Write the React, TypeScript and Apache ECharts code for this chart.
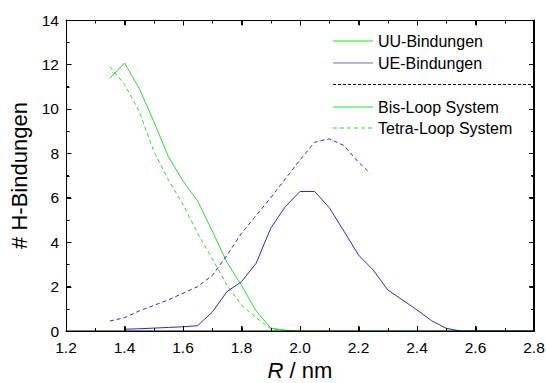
import React, { useEffect, useRef } from "react";
import * as echarts from "echarts";

// Data
const bisUU_x = [1.35, 1.4, 1.45, 1.5, 1.55, 1.6, 1.65, 1.7, 1.75, 1.8, 1.85, 1.9, 1.95, 2.0, 2.2, 2.4, 2.6, 2.8];
const bisUU_y = [11.38, 12.06, 10.93, 9.43, 7.85, 6.75, 5.85, 4.5, 3.1, 2.05, 0.9, 0.13, 0.03, 0, 0, 0, 0, 0];

const tetraUU_x = [1.35, 1.4, 1.45, 1.5, 1.55, 1.6, 1.65, 1.7, 1.75, 1.8, 1.85, 1.9, 1.95, 2.0];
const tetraUU_y = [11.9, 11.1, 9.9, 8.1, 6.8, 5.7, 4.4, 3.25, 2.07, 1.17, 0.6, 0.1, 0.02, 0];

const bisUE_x = [1.4, 1.45, 1.5, 1.55, 1.6, 1.65, 1.7, 1.75, 1.8, 1.85, 1.9, 1.95, 2.0, 2.05, 2.1, 2.15, 2.2, 2.25, 2.3, 2.35, 2.4, 2.45, 2.5, 2.55, 2.6, 2.7, 2.8];
const bisUE_y = [0.08, 0.1, 0.13, 0.16, 0.19, 0.24, 0.85, 1.77, 2.22, 3.05, 4.63, 5.6, 6.28, 6.28, 5.55, 4.5, 3.42, 2.75, 1.85, 1.4, 0.95, 0.46, 0.12, 0, 0, 0, 0];

const tetraUE_x = [1.35, 1.4, 1.45, 1.5, 1.55, 1.6, 1.65, 1.7, 1.75, 1.8, 1.85, 1.9, 1.95, 2.0, 2.05, 2.1, 2.15, 2.2, 2.24];
const tetraUE_y = [0.45, 0.6, 0.9, 1.15, 1.4, 1.7, 2.0, 2.5, 3.4, 4.4, 5.2, 6.0, 6.85, 7.7, 8.5, 8.65, 8.35, 7.6, 7.1];

// Tick positions
const xMajorTicks = [1.2, 1.4, 1.6, 1.8, 2.0, 2.2, 2.4, 2.6, 2.8];
const xMinorTicks = [1.3, 1.5, 1.7, 1.9, 2.1, 2.3, 2.5, 2.7];
const yMajorTicks = [0, 2, 4, 6, 8, 10, 12, 14];
const yMinorTicks = [1, 3, 5, 7, 9, 11, 13];

const legendTypeLabels = ["UU-Bindungen", "UE-Bindungen"];
const legendSystemLabels = ["Bis-Loop System", "Tetra-Loop System"];

const GREEN = "#22e022";
const BLUE = "#2a2acc";
const FONT = "Liberation Sans";
const X_MIN = 1.2, X_MAX = 2.8, Y_MIN = 0, Y_MAX = 14;

const zip = (xs: number[], ys: number[]) => xs.map((x, i) => [x, ys[i]]);

function makeAxis(position: string, min: number, max: number, interval: number, labels: any) {
  return {
    type: "value",
    position,
    min,
    max,
    interval,
    z: 10,
    axisLine: { show: true, onZero: false, lineStyle: { color: "#000000", width: 1, opacity: 1 } },
    axisTick: { show: true, inside: true, length: 5, lineStyle: { color: "#000000", width: 1, opacity: 1 } },
    minorTick: { show: true, splitNumber: 2, length: 3, lineStyle: { color: "#000000", width: 1, opacity: 1 } },
    splitLine: { show: false },
    minorSplitLine: { show: false },
    axisLabel: labels,
  };
}

export default function App() {
  const ref = useRef<HTMLDivElement>(null);
  useEffect(() => {
    if (!ref.current) return;
    const chart = echarts.init(ref.current, null, { renderer: "svg" });
    const lx1 = 333, lx2 = 373, tx = 378;
    const rows = [41, 63, 107, 128];
    const txt = (y: number, s: string) => ({
      type: "text",
      x: tx,
      y,
      style: { text: s, font: `16px ${FONT}`, fill: "#000", verticalAlign: "middle" },
    });
    const seg = (y: number, color: string, dash?: number[]) => ({
      type: "line",
      shape: { x1: lx1, y1: y, x2: lx2, y2: y },
      style: { stroke: color, lineWidth: 1, lineDash: dash },
    });
    const legendGraphic: any[] = [
      {
        type: "rect",
        z: 100,
        shape: { x: 66.5, y: 20.5, width: 467, height: 310.5 },
        style: { fill: "none", stroke: "#000", lineWidth: 1 },
        silent: true,
      },
      seg(rows[0], GREEN),
      txt(rows[0], legendTypeLabels[0]),
      seg(rows[1], "#6a6ad8"),
      txt(rows[1], legendTypeLabels[1]),
      { type: "line", shape: { x1: lx1, y1: 84.5, x2: 533, y2: 84.5 }, style: { stroke: "#000", lineWidth: 1, lineDash: [3, 2] } },
      seg(rows[2], GREEN),
      txt(rows[2], legendSystemLabels[0]),
      seg(rows[3], GREEN, [4, 3]),
      txt(rows[3], legendSystemLabels[1]),
    ];
    const tickLabel = { show: true, color: "#000000", fontFamily: FONT, fontSize: 15.5 };
    const xBottom: any = makeAxis("bottom", X_MIN, X_MAX, 0.2, { ...tickLabel, margin: 8, formatter: (v: number) => v.toFixed(1) });
    xBottom.name = "{i|R} / nm";
    xBottom.nameLocation = "middle";
    xBottom.nameGap = 28;
    xBottom.nameTextStyle = {
      color: "#000",
      fontFamily: FONT,
      fontSize: 22,
      rich: { i: { fontStyle: "italic", fontFamily: FONT, fontSize: 22, color: "#000" } },
    };
    const xTop: any = makeAxis("top", X_MIN, X_MAX, 0.2, { show: false });
    const yLeft: any = makeAxis("left", Y_MIN, Y_MAX, 2, { ...tickLabel, margin: 7 });
    yLeft.name = "# H-Bindungen";
    yLeft.nameLocation = "middle";
    yLeft.nameGap = 27;
    yLeft.nameTextStyle = { color: "#000", fontFamily: FONT, fontSize: 22 };
    const yRight: any = makeAxis("right", Y_MIN, Y_MAX, 2, { show: false });

    // tick marks drawn through the axes' scales: [x, y, length, orientation]
    const tickData: number[][] = [];
    xMajorTicks.forEach((v) => { tickData.push([v, Y_MIN, 5, 0]); tickData.push([v, Y_MAX, 5, 1]); });
    xMinorTicks.forEach((v) => { tickData.push([v, Y_MIN, 3, 0]); tickData.push([v, Y_MAX, 3, 1]); });
    yMajorTicks.forEach((v) => { tickData.push([X_MIN, v, 5, 2]); tickData.push([X_MAX, v, 5, 3]); });
    yMinorTicks.forEach((v) => { tickData.push([X_MIN, v, 3, 2]); tickData.push([X_MAX, v, 3, 3]); });

    const lineSeries = (name: string, data: number[][], color: string, dashed: boolean) => ({
      name,
      type: "line",
      data,
      symbol: "none",
      lineStyle: { color, width: 1, type: dashed ? [4, 3] : "solid" },
      itemStyle: { color },
      z: 3,
    });
    chart.setOption({
      animation: false,
      backgroundColor: "#fff",
      grid: { left: 66, top: 20, width: 468, height: 311, containLabel: false, outerBoundsMode: "none" },
      graphic: legendGraphic,
      xAxis: [xBottom, xTop],
      yAxis: [yLeft, yRight],
      series: [
        lineSeries("Tetra UU", zip(tetraUU_x, tetraUU_y), GREEN, true),
        lineSeries("Bis UU", zip(bisUU_x, bisUU_y), GREEN, false),
        lineSeries("Tetra UE", zip(tetraUE_x, tetraUE_y), BLUE, true),
        lineSeries("Bis UE", zip(bisUE_x, bisUE_y), BLUE, false),
        {
          name: "ticks",
          type: "custom",
          coordinateSystem: "cartesian2d",
          xAxisIndex: 0,
          yAxisIndex: 0,
          silent: true,
          clip: false,
          z: 20,
          encode: { x: 0, y: 1 },
          data: tickData,
          renderItem: (params: any, api: any) => {
            const x = api.value(0);
            const y = api.value(1);
            const len = api.value(2);
            const o = api.value(3);
            const p = api.coord([x, y]);
            let dx = 0, dy = 0;
            if (o === 0) dy = -len;
            else if (o === 1) dy = len;
            else if (o === 2) dx = len;
            else dx = -len;
            const px = Math.round(p[0]) + 0.5;
            const py = Math.round(p[1]) + 0.5;
            return {
              type: "line",
              shape: { x1: px, y1: py, x2: px + dx, y2: py + dy },
              style: { stroke: "#000", lineWidth: 1 },
            };
          },
        },
      ],
    });
    return () => chart.dispose();
  }, []);
  return <div ref={ref} style={{ width: 546, height: 383, position: "absolute", left: 0, top: 0 }} />;
}
